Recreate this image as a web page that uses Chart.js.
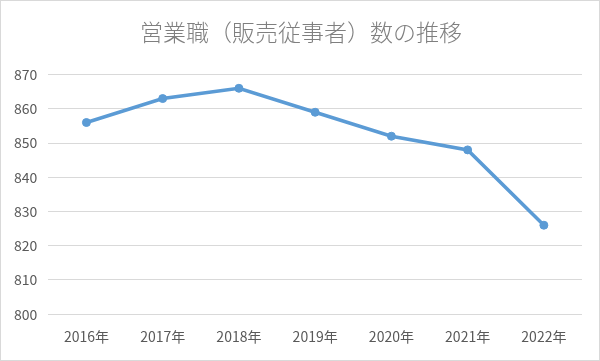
<!DOCTYPE html>
<html>
<head>
<meta charset="utf-8">
<script src="https://cdn.jsdelivr.net/npm/chart.js@4"></script>
<style>
  html, body { margin: 0; padding: 0; background: #fff; }
  #wrap { width: 600px; height: 361px; box-sizing: border-box; border: 1px solid #d9d9d9; }
</style>
</head>
<body>
<div id="wrap"><canvas id="chart" width="598" height="359"></canvas></div>
<script>
const years = ['2016年', '2017年', '2018年', '2019年', '2020年', '2021年', '2022年'];
const salesWorkers = [856, 863, 866, 859, 852, 848, 826];
const chartTitle = '営業職（販売従事者）数の推移';

const ctx = document.getElementById('chart');
const font = "'Noto Sans CJK JP', 'Noto Sans', sans-serif";

new Chart(ctx, {
    type: 'line',
    data: {
        labels: years,
        datasets: [{
            label: '販売従事者',
            data: salesWorkers,
            borderColor: '#5B9BD5',
            backgroundColor: '#5B9BD5',
            borderWidth: 3.5,
            pointRadius: 4,
            pointBorderWidth: 1,
            pointHoverRadius: 4,
            tension: 0,
        }]
    },
    options: {
        responsive: false,
        animation: false,
        layout: { padding: { left: 2, right: 0, top: 0, bottom: 1 } },
        plugins: {
            legend: { display: false },
            tooltip: { enabled: false },
            title: {
                display: true,
                text: chartTitle,
                color: '#7f7f7f',
                font: { family: font, size: 23, weight: 300 },
                padding: { top: 17, bottom: 29 }
            }
        },
        scales: {
            x: {
                offset: true,
                grid: { display: false, drawTicks: false },
                border: { display: false },
                ticks: { color: '#595959', font: { family: font, size: 14 }, padding: 14 }
            },
            y: {
                min: 800,
                max: 870,
                ticks: { stepSize: 10, color: '#595959', font: { family: font, size: 14 }, padding: 11 },
                grid: { color: '#d9d9d9', lineWidth: 1, drawTicks: false },
                border: { display: false }
            },
            // empty right-hand axis, only keeps the plot's right margin so the title stays centred
            yRight: {
                position: 'right',
                grid: { display: false, drawTicks: false },
                border: { display: false },
                ticks: { display: false },
                afterFit(scale) { scale.width = 17; }
            }
        }
    }
});
</script>
</body>
</html>
